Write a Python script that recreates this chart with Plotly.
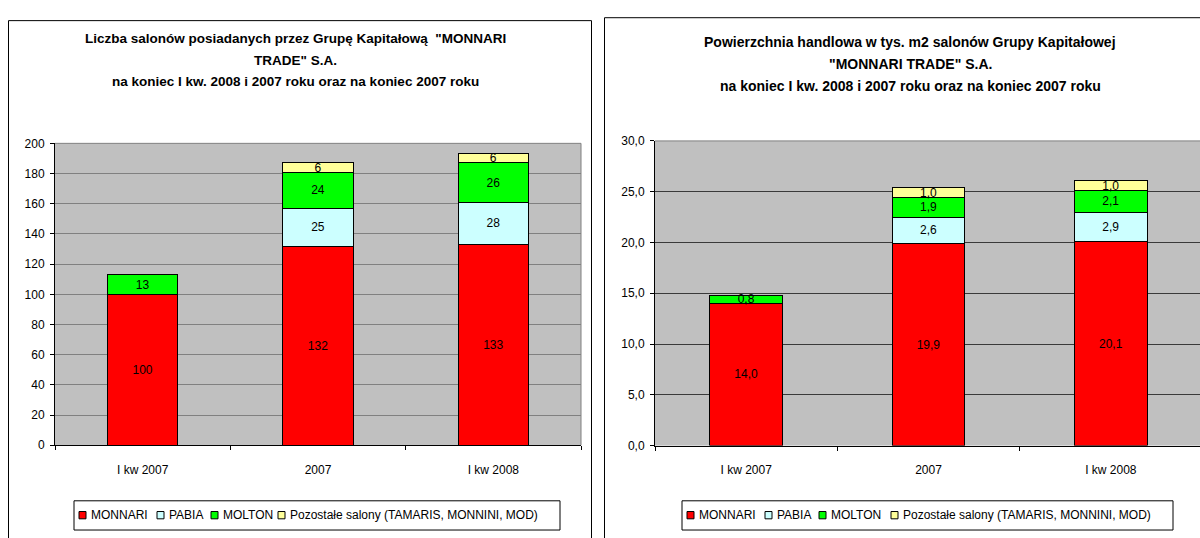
import plotly.graph_objects as go

# ---------------- data ----------------
categories = ["I kw 2007", "2007", "I kw 2008"]
series_names = ["MONNARI", "PABIA", "MOLTON", "Pozostałe salony (TAMARIS, MONNINI, MOD)"]
series_colors = ["#FF0000", "#CCFFFF", "#00FF00", "#FFFF99"]

count_monnari = [100, 132, 133]
count_pabia = [None, 25, 28]
count_molton = [13, 24, 26]
count_other = [None, 6, 6]

area_monnari = [14.0, 19.9, 20.1]
area_pabia = [None, 2.6, 2.9]
area_molton = [0.8, 1.9, 2.1]
area_other = [None, 1.0, 1.0]

left_title = ['Liczba salonów posiadanych przez Grupę Kapitałową  "MONNARI',
              'TRADE" S.A.',
              'na koniec I kw. 2008 i 2007 roku oraz na koniec 2007 roku']
right_title = ['Powierzchnia handlowa w tys. m2 salonów Grupy Kapitałowej',
               '"MONNARI TRADE" S.A.',
               'na koniec I kw. 2008 i 2007 roku oraz na koniec 2007 roku']

# ---------------- layout helpers ----------------
W, H = 1200, 538
FONT = "Liberation Sans, Arial, sans-serif"


def px(x):
    return x / W


def py(y):
    return 1 - y / H


fig = go.Figure()

left_series = [count_monnari, count_pabia, count_molton, count_other]
right_series = [area_monnari, area_pabia, area_molton, area_other]

for name, color, vals in zip(series_names, series_colors, left_series):
    fig.add_trace(go.Bar(
        x=categories, y=vals, name=name, xaxis="x", yaxis="y",
        marker=dict(color=color, line=dict(color="black", width=1)),
        width=0.4, texttemplate="%{y:.0f}", textposition="inside",
        insidetextanchor="middle", textangle=0, constraintext="none",
        textfont=dict(family=FONT, size=12, color="black"),
        insidetextfont=dict(family=FONT, size=12, color="black"),
        showlegend=False, cliponaxis=False,
    ))

for name, color, vals in zip(series_names, series_colors, right_series):
    fig.add_trace(go.Bar(
        x=categories, y=vals, name=name, xaxis="x2", yaxis="y2",
        marker=dict(color=color, line=dict(color="black", width=1)),
        width=0.4, texttemplate="%{y:.1f}", textposition="inside",
        insidetextanchor="middle", textangle=0, constraintext="none",
        textfont=dict(family=FONT, size=12, color="black"),
        insidetextfont=dict(family=FONT, size=12, color="black"),
        showlegend=False, cliponaxis=False,
    ))

axis_common = dict(showline=True, linecolor="black", linewidth=1,
                   ticks="outside", ticklen=4, tickcolor="black",
                   tickfont=dict(family=FONT, size=12, color="black"),
                   zeroline=False, fixedrange=True)

fig.update_layout(
    width=W, height=H,
    margin=dict(l=0, r=0, t=0, b=0),
    paper_bgcolor="white", plot_bgcolor="#C0C0C0",
    barmode="stack", separators=",.",
    showlegend=False,
    font=dict(family=FONT, size=12, color="black"),
    xaxis=dict(domain=[px(55), px(581)], anchor="y", type="category",
               range=[-0.5, 2.5], tickson="boundaries", showgrid=False,
               ticklabelstandoff=13, **axis_common),
    yaxis=dict(domain=[py(450), py(140)], anchor="x", range=[0, 200],
               dtick=20, showgrid=True, gridcolor="#808080", gridwidth=1,
               ticklabelstandoff=3, **axis_common),
    xaxis2=dict(domain=[px(655), 1.0], anchor="y2", type="category",
                range=[-0.5, 2.489], tickson="boundaries", showgrid=False,
                ticklabelstandoff=13, **axis_common),
    yaxis2=dict(domain=[py(450.3), py(137.5)], anchor="x2", range=[0, 30],
                dtick=5, tickformat=".1f", showgrid=True, gridcolor="#3a3a3a",
                gridwidth=1, ticklabelstandoff=3, **axis_common),
)

shapes = []
# panel borders
shapes.append(dict(type="rect", xref="paper", yref="paper",
                   x0=px(8.5), x1=px(591.5), y0=-0.1, y1=py(14),
                   line=dict(color="black", width=1), layer="below"))
shapes.append(dict(type="rect", xref="paper", yref="paper",
                   x0=px(604.5), x1=1.05, y0=-0.1, y1=py(11),
                   line=dict(color="black", width=1), layer="below"))
# plot-area borders (top / right, gray)
for xr, yr in (("x", "y"), ("x2", "y2")):
    shapes.append(dict(type="line", xref=f"{xr} domain", yref=f"{yr} domain",
                       x0=0, x1=1, y0=1, y1=1,
                       line=dict(color="#808080", width=1)))
shapes.append(dict(type="line", xref="x domain", yref="y domain",
                   x0=1, x1=1, y0=0, y1=1,
                   line=dict(color="#808080", width=1)))

annotations = []
# titles
for text, y in zip(left_title, (32, 55, 77)):
    annotations.append(dict(text=f"<b>{text}</b>", xref="paper", yref="paper",
                            x=px(295), y=py(y), xanchor="center", yanchor="middle",
                            showarrow=False, font=dict(family=FONT, size=13.5)))
for text, y in zip(right_title, (36, 59, 81.5)):
    annotations.append(dict(text=f"<b>{text}</b>", xref="paper", yref="paper",
                            x=px(910), y=py(y), xanchor="center", yanchor="middle",
                            showarrow=False, font=dict(family=FONT, size=14)))

# legends (box, swatches, labels)
legend_specs = [
    (74, 560, [79, 157, 211, 278]),
    (682, 1173, [687, 765, 819, 891]),
]
for box_l, box_r, sw_xs in legend_specs:
    shapes.append(dict(type="rect", xref="paper", yref="paper",
                       x0=px(box_l), x1=px(box_r), y0=py(537), y1=py(507),
                       line=dict(color="black", width=1), fillcolor="white"))
    for sx, name, color in zip(sw_xs, series_names, series_colors):
        shapes.append(dict(type="rect", xref="paper", yref="paper",
                           x0=px(sx), x1=px(sx + 7), y0=py(525.5), y1=py(518),
                           line=dict(color="black", width=1), fillcolor=color))
        annotations.append(dict(text=name, xref="paper", yref="paper",
                                x=px(sx + 10), y=py(521.5), xanchor="left",
                                yanchor="middle", showarrow=False,
                                font=dict(family=FONT, size=12, color="black")))

fig.update_layout(shapes=shapes, annotations=annotations)

fig.write_html("out.html", config={"displayModeBar": False},
               post_script="document.body.style.margin='0';"
                           "document.body.style.overflow='hidden';")
